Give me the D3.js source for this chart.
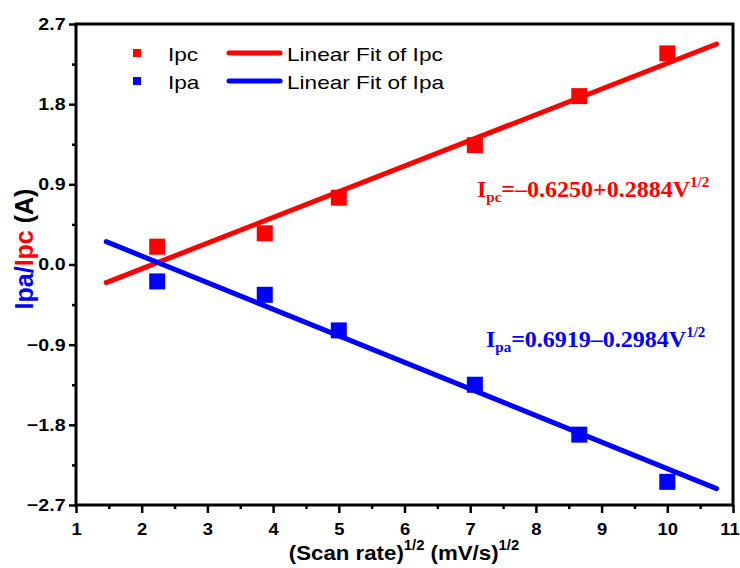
<!DOCTYPE html>
<html>
<head>
<meta charset="utf-8">
<script src="https://cdn.jsdelivr.net/npm/d3@7"></script>
<style>
  body { margin: 0; background: #fff; }
  svg { display: block; }
</style>
</head>
<body>
<svg id="chart"></svg>
<script>
// data
const scanRate = [2.236, 3.873, 5.0, 7.071, 8.660, 10.0];
const ipc = [0.20, 0.35, 0.75, 1.34, 1.89, 2.37];
const ipa = [-0.19, -0.34, -0.74, -1.35, -1.91, -2.44];
const fitPc = { a: -0.6250, b: 0.2884 };
const fitPa = { a: 0.6919, b: -0.2984 };
const fitRange = [1.46, 10.75];
const xTicks = [1, 2, 3, 4, 5, 6, 7, 8, 9, 10, 11];
const yTicks = [-2.7, -1.8, -0.9, 0.0, 0.9, 1.8, 2.7];

const width = 740, height = 568;
const margin = { top: 24, right: 7, bottom: 63, left: 76 };
const red = '#ff0000', blue = '#0000ff';
const sans = '"Liberation Sans", Arial, sans-serif';

const svg = d3.select('#chart').attr('width', width).attr('height', height);

const x = d3.scaleLinear().domain([1, 11]).range([margin.left, width - margin.right]);
const y = d3.scaleLinear().domain([-2.7, 2.7]).range([height - margin.bottom, margin.top]);

// axes (major + minor ticks, outward)
const xAxis = svg.append('g')
  .attr('transform', `translate(0,${y(-2.7)})`)
  .call(d3.axisBottom(x).tickValues(xTicks).tickFormat(d3.format('d')).tickSize(8).tickPadding(11));
const xMinor = svg.append('g')
  .attr('transform', `translate(0,${y(-2.7)})`)
  .call(d3.axisBottom(x).tickValues(d3.range(1.5, 11, 1)).tickFormat('').tickSize(4));

const yAxis = svg.append('g')
  .attr('transform', `translate(${x(1)},0)`)
  .call(d3.axisLeft(y).tickValues(yTicks).tickFormat(d3.format('.1f')).tickSize(7).tickPadding(4));
const yMinor = svg.append('g')
  .attr('transform', `translate(${x(1)},0)`)
  .call(d3.axisLeft(y).tickValues(d3.range(-2.25, 2.7, 0.9)).tickFormat('').tickSize(4));

[xAxis, xMinor, yAxis, yMinor].forEach(g => {
  g.select('.domain').remove();
  g.selectAll('line').attr('stroke', '#000').attr('stroke-width', 2.5);
});
xAxis.selectAll('text')
  .attr('font-family', sans).attr('font-weight', 'bold')
  .attr('font-size', 16).attr('fill', '#000')
  .attr('x', d => d === 11 ? -3 : 0)
  .attr('transform', 'scale(1.15,1)');
yAxis.selectAll('text')
  .attr('font-family', sans).attr('font-weight', 'bold')
  .attr('font-size', 17).attr('fill', '#000')
  .attr('x', -10.5 / 1.15)
  .attr('transform', 'scale(1.15,1)');

// frame
svg.append('rect')
  .attr('x', x(1)).attr('y', y(2.7))
  .attr('width', x(11) - x(1)).attr('height', y(-2.7) - y(2.7))
  .attr('fill', 'none').attr('stroke', '#000').attr('stroke-width', 3);

// fit lines
const line = d3.line().x(d => x(d[0])).y(d => y(d[1]));
function fitPts(f) { return fitRange.map(v => [v, f.a + f.b * v]); }
svg.append('path').datum(fitPts(fitPc)).attr('d', line)
  .attr('stroke', red).attr('stroke-width', 5).attr('fill', 'none').attr('stroke-linecap', 'round');
svg.append('path').datum(fitPts(fitPa)).attr('d', line)
  .attr('stroke', blue).attr('stroke-width', 5).attr('fill', 'none').attr('stroke-linecap', 'round');

// markers
const ms = 16;
svg.append('g').selectAll('rect')
  .data(scanRate.map((v, i) => [v, ipc[i]]))
  .join('rect')
  .attr('x', d => x(d[0]) - ms / 2).attr('y', d => y(d[1]) - ms / 2)
  .attr('width', ms).attr('height', ms).attr('fill', red);
svg.append('g').selectAll('rect')
  .data(scanRate.map((v, i) => [v, ipa[i]]))
  .join('rect')
  .attr('x', d => x(d[0]) - ms / 2).attr('y', d => y(d[1]) - ms / 2)
  .attr('width', ms).attr('height', ms).attr('fill', blue);

// stretched text helper
function stext(xx, yy, sx) {
  return svg.append('g').attr('transform', `translate(${xx},${yy}) scale(${sx},1)`).append('text');
}

// legend
const legend = [
  { name: 'Ipc', fit: 'Linear Fit of Ipc', color: red, yy: 53 },
  { name: 'Ipa', fit: 'Linear Fit of Ipa', color: blue, yy: 81 }
];
legend.forEach(l => {
  svg.append('rect').attr('x', 133).attr('y', l.yy - 4).attr('width', 8).attr('height', 8).attr('fill', l.color);
  stext(168, l.yy + 8, 1.19).text(l.name).attr('font-family', sans).attr('font-size', 19);
  svg.append('line').attr('x1', 229).attr('x2', 280).attr('y1', l.yy).attr('y2', l.yy)
    .attr('stroke', l.color).attr('stroke-width', 5).attr('stroke-linecap', 'round');
  stext(287, l.yy + 8, 1.19).text(l.fit).attr('font-family', sans).attr('font-size', 19);
});

// equations
function equation(xx, yy, color, sub, body) {
  const t = svg.append('text').attr('x', xx).attr('y', yy)
    .attr('font-family', '"Liberation Serif", "Times New Roman", serif')
    .attr('font-weight', 'bold').attr('font-size', 24).attr('fill', color);
  t.append('tspan').text('I');
  t.append('tspan').text(sub).attr('font-size', 15).attr('dy', 5);
  t.append('tspan').text(body).attr('dy', -5);
  t.append('tspan').text('1/2').attr('font-size', 15).attr('dy', -10);
}
equation(477, 197, red, 'pc', '=\u20130.6250+0.2884V');
equation(486, 347, blue, 'pa', '=0.6919\u20130.2984V');

// axis titles
const xt = stext(404, 560, 1.06).attr('text-anchor', 'middle')
  .attr('font-family', sans).attr('font-weight', 'bold').attr('font-size', 21);
xt.append('tspan').text('(Scan rate)');
xt.append('tspan').text('1/2').attr('font-size', 14).attr('dy', -10);
xt.append('tspan').text(' (mV/s)').attr('font-size', 21).attr('dy', 10);
xt.append('tspan').text('1/2').attr('font-size', 14).attr('dy', -10);

const yt = svg.append('text')
  .attr('transform', 'translate(33,249) rotate(-90)')
  .attr('text-anchor', 'middle')
  .attr('font-family', sans).attr('font-weight', 'bold').attr('font-size', 25);
yt.append('tspan').text('Ipa/').attr('fill', blue);
yt.append('tspan').text('Ipc').attr('fill', red);
yt.append('tspan').text(' (A)').attr('fill', '#000');
</script>
</body>
</html>
